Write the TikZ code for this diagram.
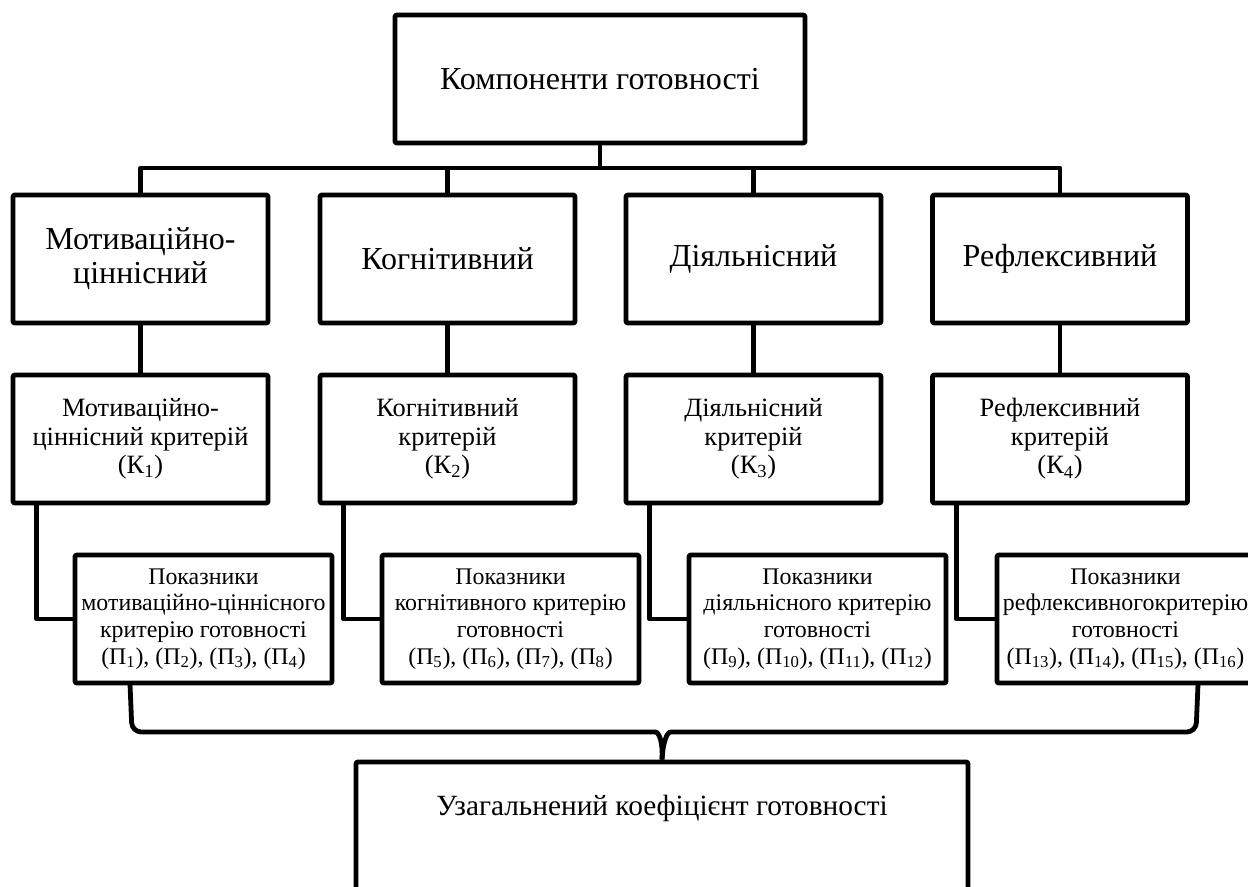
\documentclass[tikz,border=0pt]{standalone}
\usepackage{fontspec}
\setmainfont{Liberation Serif}
\begin{document}
\begin{tikzpicture}[x=0.75pt,y=-0.75pt,
  box/.style={draw,line width=3.6pt,line join=round,rounded corners=1pt,align=center,inner sep=0pt},
  conn/.style={line width=3.6pt,line join=round},
  big/.style={font=\fontsize{24}{25.5}\selectfont},
  bot/.style={font=\fontsize{22}{25}\selectfont},
  mid/.style={font=\fontsize{19.8}{21.4}\selectfont},
  sml/.style={font=\fontsize{17.9}{20}\selectfont},
  w2/.style={minimum width=191.25pt,minimum height=96pt},
  w4/.style={minimum width=192.75pt,minimum height=96pt}]
\useasboundingbox (0,0) rectangle (1248,886);
% top
\node[box,big,minimum width=307.5pt,minimum height=96pt] (top) at (600,79) {Компоненти готовності};
% row 2
\node[box,big,w2] (a2) at (140.5,259) {Мотиваційно-\\ціннісний};
\node[box,big,w2] (b2) at (447.5,259) {Когнітивний};
\node[box,big,w2] (c2) at (753.5,259) {Діяльнісний};
\node[box,big,w2] (d2) at (1060,259) {Рефлексивний};
% row 3
\node[box,mid,w2] (a3) at (140.5,439) {Мотиваційно-\\ціннісний критерій\\(К\textsubscript{1})};
\node[box,mid,w2] (b3) at (447.5,439) {Когнітивний\\критерій\\(К\textsubscript{2})};
\node[box,mid,w2] (c3) at (753.5,439) {Діяльнісний\\критерій\\(К\textsubscript{3})};
\node[box,mid,w2] (d3) at (1060,439) {Рефлексивний\\критерій\\(К\textsubscript{4})};
% row 4
\node[box,sml,w4] (a4) at (203.5,619) {Показники\\мотиваційно-ціннісного\\критерію готовності\\(П\textsubscript{1}), (П\textsubscript{2}), (П\textsubscript{3}), (П\textsubscript{4})};
\node[box,sml,w4] (b4) at (510.5,619) {Показники\\когнітивного критерію\\готовності\\(П\textsubscript{5}), (П\textsubscript{6}), (П\textsubscript{7}), (П\textsubscript{8})};
\node[box,sml,w4] (c4) at (817.5,619) {Показники\\діяльнісного критерію\\готовності\\(П\textsubscript{9}), (П\textsubscript{10}), (П\textsubscript{11}), (П\textsubscript{12})};
\node[box,sml,w4] (d4) at (1125.5,619) {Показники\\рефлексивногокритерію\\готовності\\(П\textsubscript{13}), (П\textsubscript{14}), (П\textsubscript{15}), (П\textsubscript{16})};
% bottom
\node[box,minimum width=459pt,minimum height=99.75pt] (total) at (662,828.5) {};
\node[bot] (totaltext) at (662,808) {Узагальнений коефіцієнт готовності};
% connectors top
\coordinate (bar) at (600,168);
\draw[conn] (top.south) -- (bar);
\foreach \n in {a2,b2,c2,d2} \draw[conn] (bar) -| (\n.north);
\foreach \n in {a,b,c,d} {
  \draw[conn] (\n2.south) -- (\n3.north);
  \draw[conn] ([xshift=19.5pt]\n3.south west) |- (\n4.west);
}
% brace
\coordinate (bl) at (130,684);
\coordinate (br) at (1198,684);
\draw[conn,rounded corners=7pt] (bl) -- (132,732) -- (646,732) .. controls (659,732) and (663,742) .. (total.north);
\draw[conn,rounded corners=7pt] (br) -- (1196,732) -- (680,732) .. controls (667,732) and (663,742) .. (total.north);
\end{tikzpicture}
\end{document}
